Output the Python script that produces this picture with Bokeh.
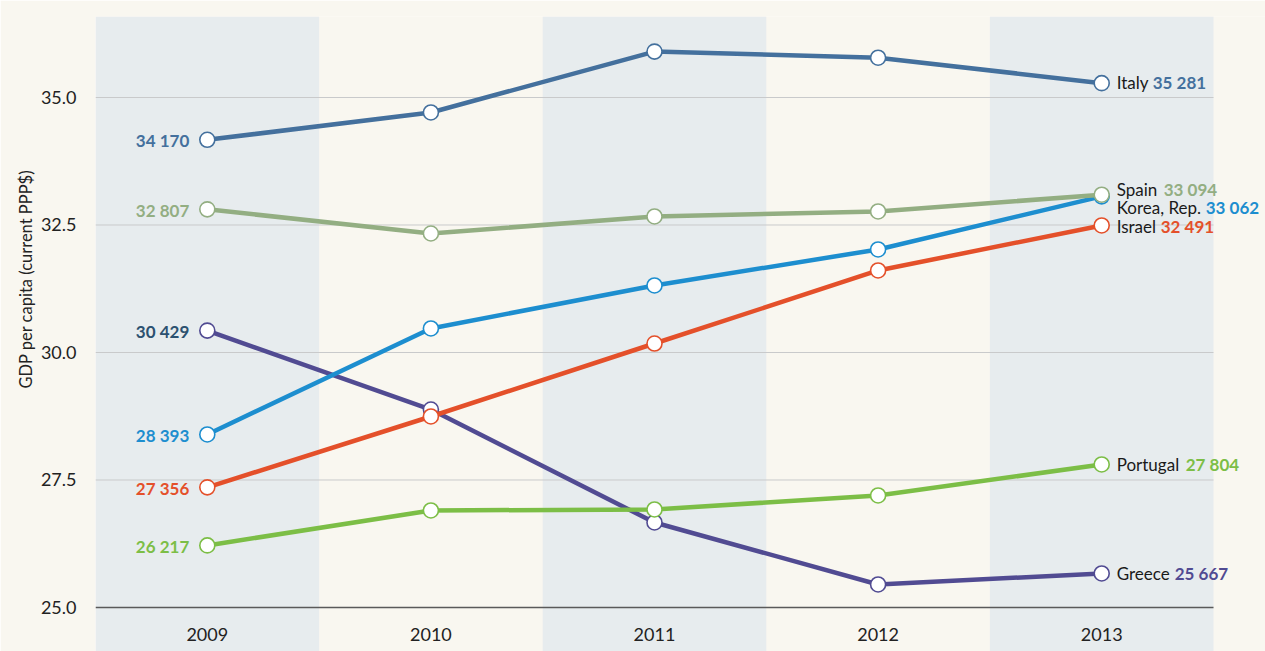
from bokeh.plotting import figure
from bokeh.models import ColumnDataSource, FixedTicker, LabelSet, NumeralTickFormatter, Title
from bokeh.core.properties import value
from bokeh.embed import file_html
from bokeh.resources import INLINE

years = ["2009", "2010", "2011", "2012", "2013"]
countries = ["Greece", "Portugal", "Korea, Rep.", "Israel", "Italy", "Spain"]
greece = [30.429, 28.882, 26.667, 25.451, 25.667]
portugal = [26.217, 26.902, 26.922, 27.196, 27.804]
korea = [28.393, 30.471, 31.314, 32.020, 33.062]
israel = [27.356, 28.745, 30.176, 31.608, 32.491]
italy = [34.170, 34.706, 35.900, 35.780, 35.281]
spain = [32.807, 32.333, 32.667, 32.765, 33.094]
series = [greece, portugal, korea, israel, italy, spain]
y_ticks = [25.0, 27.5, 30.0, 32.5, 35.0]
y_title = "GDP per capita (current PPP$)"

# styles
line_colors = {"Greece": "#514B92", "Portugal": "#7CBE46", "Korea, Rep.": "#1D8ECF",
               "Israel": "#E4502A", "Italy": "#44709D", "Spain": "#93AE82"}
left_colors = {"Greece": "#2C5170", "Portugal": "#7CBE46", "Korea, Rep.": "#1D8ECF",
               "Israel": "#E4502A", "Italy": "#44709D", "Spain": "#93AE82"}
# pixel nudges for end labels (to avoid overlap) and value offset after the name
right_dy = {"Greece": 0, "Portugal": 0, "Korea, Rep.": -11, "Israel": -1, "Italy": 1, "Spain": 5}
name_w = {"Greece": 58, "Portugal": 69, "Korea, Rep.": 89, "Israel": 44, "Italy": 36, "Spain": 47}

BG = "#F9F7F0"
BAND = "#E7ECEE"
FONT = "Lato"

W, H = 1265, 651
left_b, top_b = 95, 16
px_per_cat = 1118 / len(years)
x_start = -0.5
x_end = x_start + (W - left_b) / px_per_cat
y_start, y_end = 24.137, 36.588

p = figure(width=W, height=H, output_backend="svg", toolbar_location=None,
           x_range=(x_start, x_end), y_range=(y_start, y_end),
           min_border_left=left_b, min_border_right=0, min_border_top=top_b, min_border_bottom=0,
           background_fill_color=BG, border_fill_color=BG, outline_line_color=None)

xs = list(range(len(years)))
x_lo, x_hi = xs[0] - 0.5, xs[-1] + 0.5
band_x = xs[::2]
p.quad(left=[x - 0.5 for x in band_x], right=[x + 0.5 for x in band_x],
       bottom=y_start, top=y_end, fill_color=BAND, line_color=None)

p.xaxis.visible = False
p.xgrid.visible = False
p.ygrid.visible = False

# horizontal gridlines limited to the plotting band
g = y_ticks[1:]
p.segment(x0=[x_lo] * len(g), x1=[x_hi] * len(g), y0=g, y1=g, line_color="#C9CACB", line_width=1)
p.segment(x0=[x_lo], x1=[x_hi], y0=[y_ticks[0]], y1=[y_ticks[0]], line_color="#5A5A5A", line_width=1.3)

ax = p.yaxis[0]
ax.ticker = FixedTicker(ticks=y_ticks)
ax.formatter = NumeralTickFormatter(format="0.0")
ax.axis_line_color = None
ax.major_tick_line_color = None
ax.minor_tick_line_color = None
ax.major_label_text_font = FONT
ax.major_label_text_font_size = "18px"
ax.major_label_text_color = "#222222"
ax.major_label_standoff = 13

# y-axis title, positioned along the left side like the reference
p.add_layout(Title(text=y_title, align="left", offset=263, text_font=FONT,
                   text_font_size="16.5px", text_font_style="normal", text_color="#222222",
                   standoff=4), "left")

# year labels inside the bands
ysrc = ColumnDataSource(dict(x=xs, y=[y_ticks[0]] * len(xs), t=years))
p.text(x="x", y="y", text="t", source=ysrc, text_align="center", text_baseline="middle",
       y_offset=27, text_font=value(FONT), text_font_size="18px", text_color="#222222")

for name, vals in zip(countries, series):
    c = line_colors[name]
    src = ColumnDataSource(dict(x=xs, y=vals))
    p.line(x="x", y="y", source=src, line_color=c, line_width=4.5)
    p.scatter(x="x", y="y", source=src, size=15, fill_color="white", line_color=c, line_width=1.6)

# left labels
for name, vals in zip(countries, series):
    s = ColumnDataSource(dict(x=[xs[0]], y=[vals[0]],
                              t=[f"{round(vals[0]*1000):,}".replace(",", " ")]))
    p.add_layout(LabelSet(x="x", y="y", text="t", source=s, x_offset=-18, y_offset=-1,
                          text_align="right", text_baseline="middle", text_font=value(FONT),
                          text_font_style="bold", text_font_size="17px",
                          text_color=left_colors[name]))

# right labels
for name, vals in zip(countries, series):
    s = ColumnDataSource(dict(x=[xs[-1]], y=[vals[-1]], n=[name],
                              t=[f"{round(vals[-1]*1000):,}".replace(",", " ")]))
    p.add_layout(LabelSet(x="x", y="y", text="n", source=s, x_offset=15, y_offset=right_dy[name],
                          text_align="left", text_baseline="middle", text_font=value(FONT),
                          text_font_size="17px", text_color="#1A1A1A"))
    p.add_layout(LabelSet(x="x", y="y", text="t", source=s, x_offset=15 + name_w[name],
                          y_offset=right_dy[name],
                          text_align="left", text_baseline="middle", text_font=value(FONT),
                          text_font_style="bold", text_font_size="17px",
                          text_color=line_colors[name]))

html = file_html(p, INLINE)
html = html.replace("<body>", f'<body style="background:{BG}">', 1)
open("out.html", "w").write(html)
